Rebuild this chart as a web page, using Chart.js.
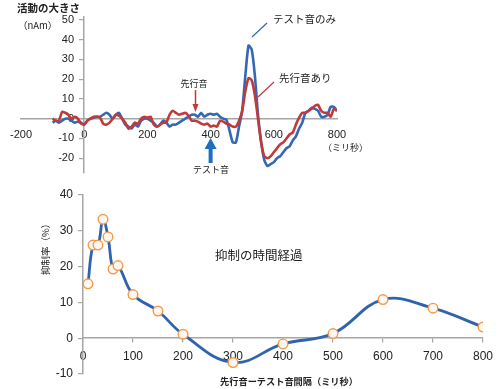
<!DOCTYPE html>
<html>
<head>
<meta charset="utf-8">
<script src="https://cdn.jsdelivr.net/npm/chart.js@4.4.1/dist/chart.umd.min.js"></script>
<style>
  html, body { margin: 0; padding: 0; background: #fff; }
  #wrap { position: relative; width: 500px; height: 389px; overflow: hidden; }
  #topBox { position: absolute; left: 0; top: 0; width: 500px; height: 185px; }
  #bottomBox { position: absolute; left: 0; top: 180px; width: 500px; height: 209px; }
</style>
</head>
<body>
<div id="wrap">
  <div id="bottomBox"><canvas id="timeChart" width="500" height="209"></canvas></div>
  <div id="topBox"><canvas id="waveChart" width="500" height="185"></canvas></div>
</div>
<script>
// --- top chart: waveforms (nAm vs ms) ---
const waveTimes = [-100, -90, -80, -70, -60, -50, -40, -30, -20, -10,
  0, 10, 20, 30, 40, 50, 60, 70, 80, 90,
  100, 110, 120, 130, 140, 150, 160, 170, 180, 190,
  200, 210, 220, 230, 240, 250, 260, 270, 280, 290,
  300, 310, 320, 330, 340, 350, 360, 370, 380, 390,
  400, 410, 420, 430, 440, 450, 460, 470, 480, 490,
  500, 510, 520, 530, 540, 550, 560, 570, 580, 590,
  600, 610, 620, 630, 640, 650, 660, 670, 680, 690,
  700, 710, 720, 730, 740, 750, 760, 770, 780, 790, 800];
const testOnly = [-2, -1, -2, -1, 0, 0, -1, -2, -1.5, -2,
  -3, -1, 0, 0.5, 1, 1, 2, 3, 2, 0,
  2, 3, 0, -3, -4, -5, -3, -4, -1, 0,
  0, -1, -2, -4, -3, -1, -2, -4, -3, -3,
  -2, -1, 0, 1, 2, 2, 1, 3, 1, 2,
  2.5, 2, 2.5, 1, 0, -0.5, -6, -12, -12, -4,
  4, 22, 37, 35, 22, 2, -12, -21, -24, -23,
  -22, -20, -19, -17, -15, -14, -11, -9, -5, -2,
  3, 4, 5.5, 5, 4, 1, 1, 2, 6, 6, 4];
const withLeading = [0, -1, -1, 3.5, 3, 2, 0, 1, 0, -2.5,
  -3, -1, 0, 1, 1, 0.5, -2.5, -3, -2, 0,
  2, 1.5, 0, -2, -5, -4, -2, -2.5, 0, 1,
  0.5, 1, -3, -4, -3, -2, -2, 2, 4, 3,
  2, 2.5, 3, 1.5, -1, -1, -1.5, -2.5, -3, -2.5,
  -4, -3.5, -4, -1, -1.5, -2.5, -3, -4, -4, -1,
  4, 14, 20.5, 19.5, 12, 0, -12, -19, -20, -19,
  -17, -15, -13, -12, -10, -8, -7, -3, 0.5, 3,
  3, 4, 5, 6.5, 7, 4, 3, 3, 1, 5, 4];
const waveXTicks = [-200, 0, 200, 400, 600, 800];
const waveYTicks = [-20, -10, 0, 10, 20, 30, 40, 50];

// --- bottom chart: suppression vs interval ---
const intervalMs = [10, 20, 30, 40, 50, 60, 70, 100, 150, 200, 300, 400, 500, 600, 700, 800];
const suppression = [15.2, 26, 26, 33.2, 28.3, 19.3, 20.3, 12.2, 7.6, 1.1, -6.8, -1.6, 1.3, 10.8, 8.4, 3.1];
const timeXTicks = [0, 100, 200, 300, 400, 500, 600, 700, 800];
const timeYTicks = [-10, 0, 10, 20, 30, 40];

const JP = '"Noto Sans CJK JP", "Noto Sans", sans-serif';
const NUM = '"Liberation Sans", Arial, sans-serif';
const BLUE = '#3568b4';
const RED = '#c03a3a';
const AXIS = '#a6a6a6';
const TXT = '#222';

function pts(xs, ys) {
  return xs.map((x, i) => ({ x: x, y: ys[i] }));
}

function text(ctx, s, x, y, font, align) {
  ctx.font = font;
  ctx.fillStyle = TXT;
  ctx.textAlign = align || 'left';
  ctx.textBaseline = 'middle';
  ctx.fillText(s, x, y);
}

// label-only axis sitting a little left of the real y axis
function labelAxis(min, max, ticks, atX, size) {
  return {
    type: 'linear', min: min, max: max,
    position: { x: atX },
    afterBuildTicks: (axis) => { axis.ticks = ticks.map(v => ({ value: v })); },
    grid: { display: false, drawTicks: false },
    border: { display: false },
    ticks: { color: TXT, font: { family: NUM, size: size }, autoSkip: false }
  };
}

const waveNotes = {
  id: 'waveNotes',
  afterDraw(chart) {
    const ctx = chart.ctx;
    const xs = chart.scales.x;
    ctx.save();
    text(ctx, '活動の大きさ', 17, 8, 'bold 10.5px ' + JP);
    text(ctx, '（nAm）', 18, 25, '9.5px ' + JP);
    text(ctx, 'テスト音のみ', 273, 19, '10.5px ' + JP);
    text(ctx, '先行音あり', 279, 78, '10.5px ' + JP);
    text(ctx, '（ミリ秒）', 323, 148, '9px ' + JP);
    text(ctx, '先行音', 194, 84, '9px ' + JP, 'center');
    text(ctx, 'テスト音', 211, 170, '9px ' + JP, 'center');

    // leader lines
    ctx.lineWidth = 1.2;
    ctx.strokeStyle = BLUE;
    ctx.beginPath(); ctx.moveTo(252, 37); ctx.lineTo(267, 23); ctx.stroke();
    ctx.strokeStyle = RED;
    ctx.beginPath(); ctx.moveTo(258, 97); ctx.lineTo(274, 82); ctx.stroke();

    // leading tone arrow (red, thin)
    const rx = Math.round(xs.getPixelForValue(352)) + 0.5;
    ctx.strokeStyle = RED; ctx.fillStyle = RED; ctx.lineWidth = 1.5;
    ctx.beginPath(); ctx.moveTo(rx, 90); ctx.lineTo(rx, 105); ctx.stroke();
    ctx.beginPath(); ctx.moveTo(rx - 3, 104); ctx.lineTo(rx + 3, 104); ctx.lineTo(rx, 112); ctx.closePath(); ctx.fill();

    // test tone arrow (blue, thick)
    const bx = xs.getPixelForValue(400);
    ctx.strokeStyle = '#1f6fc0'; ctx.fillStyle = '#1f6fc0'; ctx.lineWidth = 4;
    ctx.beginPath(); ctx.moveTo(bx, 163); ctx.lineTo(bx, 147); ctx.stroke();
    ctx.beginPath(); ctx.moveTo(bx - 6, 149); ctx.lineTo(bx + 6, 149); ctx.lineTo(bx, 138); ctx.closePath(); ctx.fill();
    ctx.restore();
  }
};

const timeNotes = {
  id: 'timeNotes',
  afterDraw(chart) {
    const ctx = chart.ctx;
    ctx.save();
    text(ctx, '抑制の時間経過', 215, 75, '12.5px ' + JP);
    text(ctx, '先行音ーテスト音間隔（ミリ秒）', 289, 202, 'bold 9.2px ' + JP, 'center');
    ctx.translate(45, 67);
    ctx.rotate(-Math.PI / 2);
    text(ctx, '抑制率（%）', 0, 0, '9.5px ' + JP, 'center');
    ctx.restore();
  }
};

new Chart(document.getElementById('waveChart').getContext('2d'), {
  type: 'line',
  data: {
    datasets: [{
      label: 'テスト音のみ',
      data: pts(waveTimes, testOnly),
      borderColor: BLUE,
      borderWidth: 2.6,
      pointRadius: 0,
      tension: 0.2,
      order: 1
    }, {
      label: '先行音あり',
      data: pts(waveTimes, withLeading),
      borderColor: RED,
      borderWidth: 2.6,
      pointRadius: 0,
      tension: 0.2,
      order: 0
    }]
  },
  options: {
    responsive: false,
    animation: false,
    layout: { padding: { left: 20, right: 163, top: 17, bottom: 12 } },
    plugins: { legend: { display: false }, tooltip: { enabled: false } },
    scales: {
      x: {
        type: 'linear',
        min: -200, max: 800,
        position: { y: 0 },
        afterBuildTicks: (axis) => { axis.ticks = waveXTicks.map(v => ({ value: v })); },
        grid: { display: false, drawTicks: false },
        border: { display: true, color: AXIS, width: 1.5 },
        ticks: { color: TXT, font: { family: NUM, size: 11 }, padding: 10, maxRotation: 0, autoSkip: false }
      },
      y: {
        type: 'linear',
        min: -27.5, max: 51.5,
        position: { x: 0 },
        afterBuildTicks: (axis) => { axis.ticks = waveYTicks.map(v => ({ value: v })); },
        grid: { drawOnChartArea: false, drawTicks: true, tickLength: 4, color: AXIS, lineWidth: 1.2 },
        border: { display: true, color: AXIS, width: 1.5 },
        ticks: { display: false }
      },
      yLabels: labelAxis(-27.5, 51.5, waveYTicks, -32, 11)
    }
  },
  plugins: [waveNotes]
});

new Chart(document.getElementById('timeChart').getContext('2d'), {
  type: 'line',
  data: {
    datasets: [{
      label: '抑制率',
      data: pts(intervalMs, suppression),
      borderColor: '#2f64ad',
      borderWidth: 2.8,
      tension: 0.4,
      pointRadius: 4.8,
      pointBackgroundColor: '#fff7ef',
      pointBorderColor: '#f09a4a',
      pointBorderWidth: 1.4
    }]
  },
  options: {
    responsive: false,
    animation: false,
    layout: { padding: { left: 83, right: 12, top: 15, bottom: 15 } },
    plugins: { legend: { display: false }, tooltip: { enabled: false } },
    scales: {
      x: {
        type: 'linear',
        min: 0, max: 800,
        position: { y: 0 },
        afterBuildTicks: (axis) => { axis.ticks = timeXTicks.map(v => ({ value: v })); },
        grid: { drawOnChartArea: false, drawTicks: true, tickLength: 4, color: AXIS, lineWidth: 1.2 },
        border: { display: true, color: AXIS, width: 1.5 },
        ticks: { color: TXT, font: { family: NUM, size: 12 }, padding: 7, maxRotation: 0, autoSkip: false }
      },
      y: {
        type: 'linear',
        min: -10, max: 40,
        position: { x: 0 },
        afterBuildTicks: (axis) => { axis.ticks = timeYTicks.map(v => ({ value: v })); },
        grid: { drawOnChartArea: false, drawTicks: true, tickLength: 4, color: AXIS, lineWidth: 1.2 },
        border: { display: true, color: AXIS, width: 1.5 },
        ticks: { display: false }
      },
      yLabels: labelAxis(-10, 40, timeYTicks, -20, 12)
    }
  },
  plugins: [timeNotes]
});
</script>
</body>
</html>
